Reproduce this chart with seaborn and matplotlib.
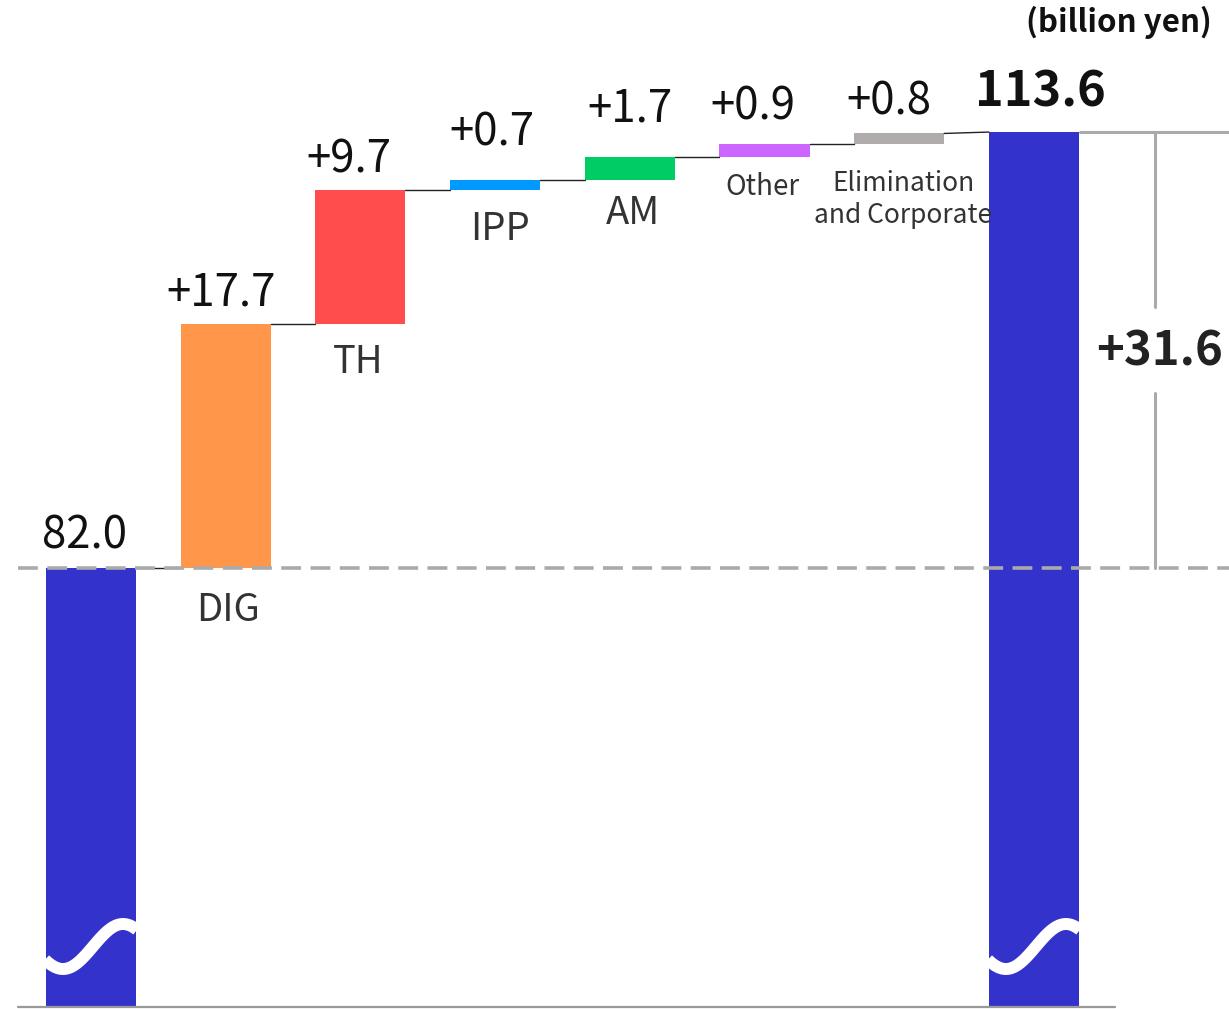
import numpy as np
import matplotlib
matplotlib.use("Agg")
import matplotlib.pyplot as plt
import seaborn as sns
import pandas as pd

# ---- data ----
steps = ["start", "DIG", "TH", "IPP", "AM", "Other", "Elim", "end"]
step_labels = ["", "DIG", "TH", "IPP", "AM", "Other", "Elimination\nand Corporate", ""]
start_value = 82.0
deltas = [17.7, 9.7, 0.7, 1.7, 0.9, 0.8]
end_value = 113.6
value_labels = ["82.0", "+17.7", "+9.7", "+0.7", "+1.7", "+0.9", "+0.8", "113.6"]
total_change_label = "+31.6"
unit_label = "(billion yen)"
colors = ["#3333cc", "#ff964a", "#ff4d4d", "#0099ff", "#00cc66", "#cc66ff", "#b0acab", "#3333cc"]

# ---- layout ----
W_PX, H_PX = 1229, 1009
X0_PX, XSTEP_PX = 91, 134.7
XLIM = (-X0_PX / XSTEP_PX, (W_PX - X0_PX) / XSTEP_PX)
YLIM = (50.05, 123.17)
BAR_W = 90 / XSTEP_PX


def px_x(px):
    return (px - X0_PX) / XSTEP_PX


def px_y(py):
    return YLIM[1] - np.asarray(py) / H_PX * (YLIM[1] - YLIM[0])


BASE = float(px_y(1007))

sns.set_style("white")
plt.rcParams["font.family"] = ["Noto Sans CJK JP", "DejaVu Sans"]

# running totals
bottoms = [BASE]
tops = [start_value]
cum = start_value
for d in deltas:
    bottoms.append(cum)
    cum += d
    tops.append(cum)
bottoms.append(BASE)
tops.append(end_value)
heights = [t - b for t, b in zip(tops, bottoms)]

df = pd.DataFrame({"step": steps, "height": heights})

fig = plt.figure(figsize=(W_PX / 100, H_PX / 100), dpi=100)
ax = fig.add_axes([0, 0, 1, 1])

sns.barplot(data=df, x="step", y="height", hue="step", hue_order=steps,
            palette=colors, width=BAR_W, saturation=1, errorbar=None,
            legend=False, ax=ax)

patches = {}
for p in ax.patches:
    i = int(round(p.get_x() + p.get_width() / 2))
    p.set_y(bottoms[i])
    p.set_linewidth(0)
    patches[i] = p

ax.set_xlim(*XLIM)
ax.set_ylim(*YLIM)
ax.axis("off")

# connectors
for i in range(len(steps) - 1):
    y1 = bottoms[i + 1] if i + 1 < len(steps) - 1 else tops[i + 1]
    ax.plot([i + BAR_W / 2, i + 1 - BAR_W / 2], [tops[i], y1],
            color="#222222", lw=1.0, zorder=1)

# baseline and reference dashed line
ax.plot([px_x(18), px_x(1115)], [BASE, BASE], color="#999999", lw=1.6, zorder=4)
ax.plot([px_x(18), px_x(W_PX)], [start_value, start_value], color="#aaaaaa",
        lw=2.6, dashes=(5.5, 2.6), zorder=5)

# axis-break waves on the total bars
dx = np.linspace(-46, 46, 120)
wave_px = 946.5 + 22.5 * np.cos(np.pi * (dx + 28) / 60)
for i in (0, len(steps) - 1):
    ln, = ax.plot(i + dx / XSTEP_PX, px_y(wave_px), color="white", lw=8.6,
                  solid_capstyle="butt", zorder=3)
    ln.set_clip_path(patches[i])

# bracket for total change
ax.plot([px_x(1080), px_x(W_PX)], [end_value, end_value], color="#aaaaaa", lw=2.2)
ax.plot([px_x(1155)] * 2, [end_value, px_y(307)], color="#aaaaaa", lw=2.2)
ax.plot([px_x(1155)] * 2, [px_y(393), start_value], color="#aaaaaa", lw=2.2)
fig.text(1160 / W_PX, 1 - 352 / H_PX, total_change_label, ha="center", va="center",
         fontsize=34, fontweight="bold", color="#222222")

# value labels (offsets in px: dx, dy above top)
value_offsets = [(-6, 20), (-5, 18), (-12, 18), (-3, 35), (0, 35), (-12, 25), (-10, 19), (6, 26)]
for i, (lab, (ox, oy)) in enumerate(zip(value_labels, value_offsets)):
    bold = i == len(steps) - 1
    ax.annotate(lab, (i, tops[i]), xytext=(ox * 0.72, oy * 0.72),
                textcoords="offset points", ha="center", va="baseline",
                fontsize=35 if bold else 31.5, fontweight="bold" if bold else "normal",
                color="#111111")

# category labels below the floating bars (offsets in px below bottom: dx, dy, size)
label_offsets = [None, (2, 42, 27.5), (-2, 39, 27.5), (5, 39, 27.5), (3, 33, 27.5),
                 (-2, 30, 20), (4, 55, 19), None]
for i, (lab, off) in enumerate(zip(step_labels, label_offsets)):
    if off is None:
        continue
    ox, oy, fs = off
    ax.annotate(lab, (i, bottoms[i]), xytext=(ox * 0.72, -oy * 0.72),
                textcoords="offset points", ha="center", va="center",
                fontsize=fs, color="#333333", linespacing=1.2)

fig.text(1212 / W_PX, 1 - 22 / H_PX, unit_label, ha="right", va="center",
         fontsize=22.5, fontweight="bold", color="#111111")

fig.savefig("out.png", dpi=100)
